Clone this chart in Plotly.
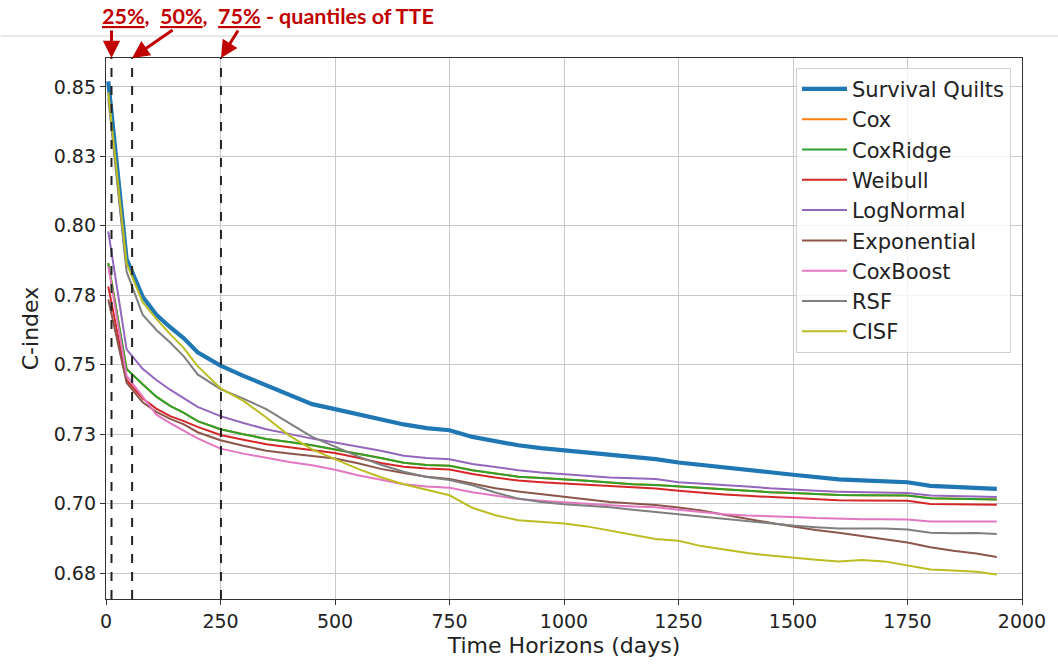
import plotly.graph_objects as go

# ---------------- data ----------------
time_horizons = [5, 45, 80, 110, 140, 170, 200, 250, 300, 350, 400, 450, 500, 550, 600,
                 650, 700, 750, 800, 850, 900, 950, 1000, 1050, 1100, 1150, 1200, 1250,
                 1300, 1350, 1400, 1450, 1500, 1550, 1600, 1650, 1700, 1750, 1800, 1850,
                 1900, 1945]

survival_quilts = [0.852, 0.788, 0.7745, 0.768, 0.7635, 0.7595, 0.7545, 0.7497, 0.7460, 0.7425,
                   0.7390, 0.7358, 0.7340, 0.7322, 0.7306, 0.7285, 0.7272, 0.7264, 0.7240, 0.7225,
                   0.7210, 0.7200, 0.7192, 0.7183, 0.7174, 0.7166, 0.7160, 0.7148, 0.7140, 0.7132,
                   0.7123, 0.7113, 0.7104, 0.7095, 0.7087, 0.7084, 0.7081, 0.7077, 0.7064, 0.7061,
                   0.7057, 0.7053]

cox_ridge = [0.7866, 0.7485, 0.7430, 0.7385, 0.7352, 0.7327, 0.7297, 0.7268, 0.7250, 0.7233,
             0.7222, 0.7210, 0.7195, 0.7180, 0.7164, 0.7147, 0.7139, 0.7136, 0.7120, 0.7108,
             0.7097, 0.7092, 0.7088, 0.7082, 0.7076, 0.7070, 0.7067, 0.7062, 0.7055, 0.7050,
             0.7045, 0.7041, 0.7038, 0.7034, 0.7031, 0.7030, 0.7030, 0.7029, 0.7019, 0.7017,
             0.7016, 0.7015]

cox = [0.7866, 0.7485, 0.7430, 0.7385, 0.7352, 0.7327, 0.7297, 0.7268, 0.7250, 0.7233,
       0.7222, 0.7210, 0.7195, 0.7180, 0.7164, 0.7147, 0.7139, 0.7136, 0.7120, 0.7108,
       0.7097, 0.7092, 0.7088, 0.7082, 0.7076, 0.7070, 0.7067, 0.7062, 0.7055, 0.7050,
       0.7045, 0.7041, 0.7038, 0.7034, 0.7031, 0.7030, 0.7030, 0.7029, 0.7019, 0.7017,
       0.7016, 0.7015]

weibull = [0.7782, 0.7445, 0.7378, 0.7342, 0.7315, 0.7297, 0.7276, 0.7247, 0.7230, 0.7214,
           0.7203, 0.7193, 0.7182, 0.7165, 0.7146, 0.7133, 0.7126, 0.7123, 0.7107, 0.7094,
           0.7083, 0.7077, 0.7072, 0.7067, 0.7062, 0.7057, 0.7054, 0.7046, 0.7039, 0.7033,
           0.7028, 0.7024, 0.7020, 0.7015, 0.7012, 0.7011, 0.7011, 0.7010, 0.6999, 0.6998,
           0.6997, 0.6996]

log_normal = [0.798, 0.7555, 0.7485, 0.7445, 0.7410, 0.7380, 0.7348, 0.7315, 0.7290, 0.7268,
              0.7250, 0.7234, 0.7220, 0.7205, 0.7190, 0.7172, 0.7164, 0.7160, 0.7143, 0.7132,
              0.7120, 0.7112, 0.7106, 0.7100, 0.7094, 0.7091, 0.7089, 0.7077, 0.7072, 0.7068,
              0.7062, 0.7055, 0.7050, 0.7046, 0.7043, 0.7041, 0.7040, 0.7038, 0.7029, 0.7027,
              0.7026, 0.7024]

exponential = [0.7735, 0.7435, 0.7365, 0.7330, 0.7305, 0.7285, 0.7257, 0.7228, 0.7208, 0.7190,
               0.7180, 0.7170, 0.7162, 0.7145, 0.7125, 0.7110, 0.7097, 0.7089, 0.7072, 0.7055,
               0.7044, 0.7034, 0.7026, 0.7016, 0.7006, 0.7000, 0.6995, 0.6986, 0.6975, 0.6960,
               0.6945, 0.6931, 0.6918, 0.6905, 0.6895, 0.6884, 0.6872, 0.6860, 0.6843, 0.6830,
               0.6820, 0.6808]

cox_boost = [0.7854, 0.7460, 0.7385, 0.7320, 0.7290, 0.7262, 0.7235, 0.7198, 0.7180, 0.7165,
             0.7150, 0.7138, 0.7122, 0.7102, 0.7085, 0.7070, 0.7062, 0.7057, 0.7041, 0.7028,
             0.7017, 0.7010, 0.7004, 0.6999, 0.6994, 0.6990, 0.6987, 0.6978, 0.6970, 0.6962,
             0.6957, 0.6955, 0.6952, 0.6948, 0.6945, 0.6944, 0.6944, 0.6943, 0.6936, 0.6936,
             0.6937, 0.6936]

rsf = [0.846, 0.7835, 0.7680, 0.7625, 0.7580, 0.7530, 0.7465, 0.7412, 0.7378, 0.7340,
       0.7290, 0.7240, 0.7205, 0.7170, 0.7140, 0.7115, 0.7096, 0.7085, 0.7066, 0.7040,
       0.7018, 0.7006, 0.6998, 0.6993, 0.6987, 0.6978, 0.6970, 0.6962, 0.6952, 0.6945,
       0.6937, 0.6928, 0.6921, 0.6915, 0.6910, 0.6910, 0.6910, 0.6907, 0.6895, 0.6893,
       0.6894, 0.6891]

cisf = [0.848, 0.7865, 0.7725, 0.7665, 0.7610, 0.7560, 0.7495, 0.7415, 0.7370, 0.7310,
        0.7245, 0.7195, 0.7160, 0.7125, 0.7095, 0.7070, 0.7050, 0.7030, 0.6985, 0.6958,
        0.6940, 0.6933, 0.6928, 0.6918, 0.6903, 0.6888, 0.6873, 0.6866, 0.6847, 0.6835,
        0.6822, 0.6813, 0.6805, 0.6798, 0.6792, 0.6797, 0.6792, 0.6778, 0.6763, 0.6759,
        0.6755, 0.6745]

model_names = ["Survival Quilts", "Cox", "CoxRidge", "Weibull", "LogNormal",
               "Exponential", "CoxBoost", "RSF", "CISF"]

quantiles_tte = [12, 57, 251]
quantile_labels = ["25%", "50%", "75%"]

x_tick_values = [0, 250, 500, 750, 1000, 1250, 1500, 1750, 2000]
y_tick_values = [0.675, 0.700, 0.725, 0.750, 0.775, 0.800, 0.825, 0.850]
y_tick_labels = ["0.68", "0.70", "0.73", "0.75", "0.78", "0.80", "0.83", "0.85"]

# ---------------- styling ----------------
series_values = [survival_quilts, cox, cox_ridge, weibull, log_normal,
                 exponential, cox_boost, rsf, cisf]
colors = ["#1f77b4", "#ff7f0e", "#2ca02c", "#d62728", "#9467bd",
          "#8c564b", "#e377c2", "#7f7f7f", "#bcbd22"]
widths = [4.2, 2, 2, 2, 2, 2, 2, 2, 2]

FONT = "DejaVu Sans"
RED = "#C00000"
TXT = "#222222"

fig = go.Figure()
for name, vals, col, w in zip(model_names, series_values, colors, widths):
    fig.add_trace(go.Scatter(x=time_horizons, y=vals, mode="lines", name=name,
                             line=dict(color=col, width=w)))

# dashed quantile lines
for q in quantiles_tte:
    fig.add_shape(type="line", xref="x", yref="paper", x0=q, x1=q, y0=0, y1=1,
                  line=dict(color="#222222", width=2, dash="dash"), layer="above")

# thin grey separator line across the top
fig.add_shape(type="line", xref="paper", yref="paper", x0=-0.115, x1=1.04,
              y0=1.0406, y1=1.0406, line=dict(color="#d4d4d4", width=1))

# title annotation with underlined percentages
u = "<span style='text-decoration:underline'>{}</span>"
title_txt = "<b>" + u.format(quantile_labels[0]) + ",  " + u.format(quantile_labels[1]) + \
            ",  " + u.format(quantile_labels[2]) + " - quantiles of TTE</b>"
fig.add_annotation(text=title_txt, xref="paper", yref="paper", x=-0.007, y=1.077,
                   xanchor="left", yanchor="middle", showarrow=False,
                   font=dict(family="Lato", size=21.5, color=RED))

# arrows
arrow_tails = [(0, -29), (42, -29), (18, -29)]
for q, (ax, ay) in zip(quantiles_tte, arrow_tails):
    fig.add_annotation(x=q, y=1.0, xref="x", yref="paper", ax=ax, ay=ay,
                       showarrow=True, arrowhead=2, arrowsize=1.15, arrowwidth=3,
                       arrowcolor=RED, text="", standoff=0)

fig.update_layout(
    width=1058, height=665,
    margin=dict(l=106, r=31, t=58, b=65),
    paper_bgcolor="white", plot_bgcolor="white",
    font=dict(family=FONT, size=19, color=TXT),
    showlegend=True,
    legend=dict(x=0.988, y=0.982, xanchor="right", yanchor="top",
                bgcolor="rgba(255,255,255,0.8)", bordercolor="#d0d0d0", borderwidth=1,
                font=dict(family=FONT, size=21, color=TXT),
                tracegroupgap=0, itemwidth=45),
)
fig.update_xaxes(range=[0, 2000], tickvals=x_tick_values,
                 tickfont=dict(family=FONT, size=19, color=TXT),
                 showgrid=True, gridcolor="#c8c8c8", gridwidth=1,
                 showline=True, linecolor="#333333", linewidth=1.3, mirror=True,
                 ticks="outside", ticklen=5, tickcolor="#333333", zeroline=False,
                 title=dict(text="Time Horizons (days)", standoff=6,
                            font=dict(family=FONT, size=22, color=TXT)))
fig.update_yaxes(range=[0.66566, 0.86042], tickvals=y_tick_values, ticktext=y_tick_labels,
                 tickfont=dict(family=FONT, size=19, color=TXT),
                 showgrid=True, gridcolor="#c8c8c8", gridwidth=1,
                 showline=True, linecolor="#333333", linewidth=1.3, mirror=True,
                 ticks="outside", ticklen=5, tickcolor="#333333", zeroline=False,
                 title=dict(text="C-index", standoff=9,
                            font=dict(family=FONT, size=22, color=TXT)))

fig.write_html("out.html")
